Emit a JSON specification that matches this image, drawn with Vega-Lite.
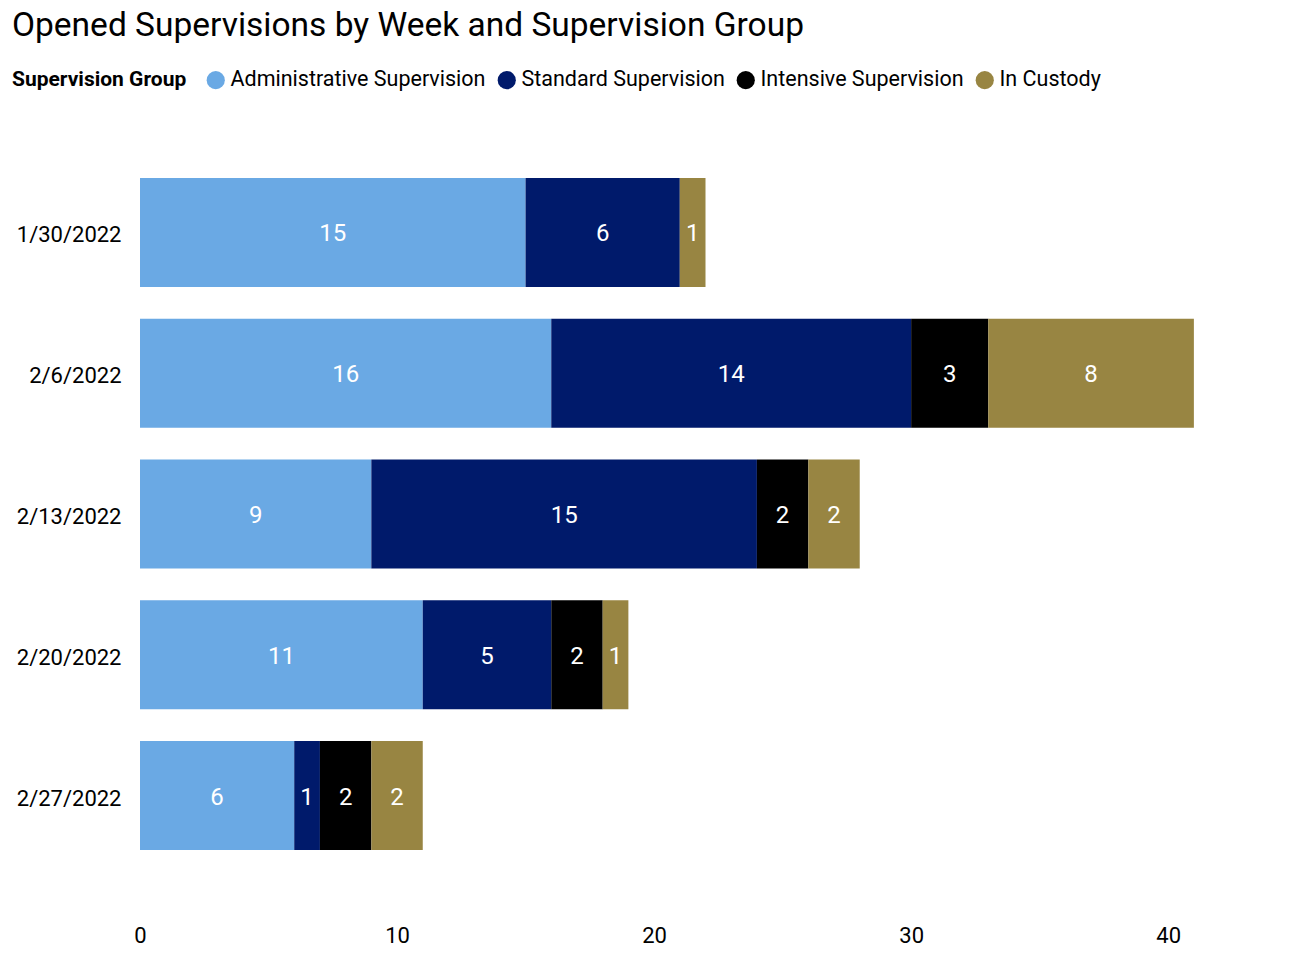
{
  "$schema": "https://vega.github.io/schema/vega-lite/v6.json",
  "width": 1131,
  "height": 704,
  "autosize": {"type": "none"},
  "padding": {"left": 140, "top": 162, "right": 37, "bottom": 94},
  "background": "white",
  "config": {"view": {"stroke": null}, "font": "Roboto"},
  "title": {
    "text": "Opened Supervisions by Week and Supervision Group",
    "anchor": "start",
    "frame": "group",
    "dx": -128,
    "dy": -22,
    "fontSize": 33.5,
    "font": "Roboto",
    "fontWeight": "normal",
    "color": "black"
  },
  "data": {
    "values": [
      {"week": "1/30/2022", "group": "Administrative Supervision", "k": 1, "n": 15},
      {"week": "1/30/2022", "group": "Standard Supervision", "k": 2, "n": 6},
      {"week": "1/30/2022", "group": "In Custody", "k": 4, "n": 1},
      {"week": "2/6/2022", "group": "Administrative Supervision", "k": 1, "n": 16},
      {"week": "2/6/2022", "group": "Standard Supervision", "k": 2, "n": 14},
      {"week": "2/6/2022", "group": "Intensive Supervision", "k": 3, "n": 3},
      {"week": "2/6/2022", "group": "In Custody", "k": 4, "n": 8},
      {"week": "2/13/2022", "group": "Administrative Supervision", "k": 1, "n": 9},
      {"week": "2/13/2022", "group": "Standard Supervision", "k": 2, "n": 15},
      {"week": "2/13/2022", "group": "Intensive Supervision", "k": 3, "n": 2},
      {"week": "2/13/2022", "group": "In Custody", "k": 4, "n": 2},
      {"week": "2/20/2022", "group": "Administrative Supervision", "k": 1, "n": 11},
      {"week": "2/20/2022", "group": "Standard Supervision", "k": 2, "n": 5},
      {"week": "2/20/2022", "group": "Intensive Supervision", "k": 3, "n": 2},
      {"week": "2/20/2022", "group": "In Custody", "k": 4, "n": 1},
      {"week": "2/27/2022", "group": "Administrative Supervision", "k": 1, "n": 6},
      {"week": "2/27/2022", "group": "Standard Supervision", "k": 2, "n": 1},
      {"week": "2/27/2022", "group": "Intensive Supervision", "k": 3, "n": 2},
      {"week": "2/27/2022", "group": "In Custody", "k": 4, "n": 2}
    ]
  },
  "transform": [
    {"stack": "n", "groupby": ["week"], "sort": [{"field": "k", "order": "ascending"}], "as": ["x0", "x1"]}
  ],
  "encoding": {
    "y": {
      "field": "week",
      "type": "nominal",
      "sort": ["1/30/2022", "2/6/2022", "2/13/2022", "2/20/2022", "2/27/2022"],
      "scale": {"paddingInner": 0.2256, "paddingOuter": 0.113},
      "axis": {
        "title": null,
        "ticks": false,
        "domain": false,
        "labelPadding": 19,
        "labelOffset": 3,
        "labelFontSize": 22,
        "labelFont": "Roboto",
        "labelColor": "black"
      }
    }
  },
  "layer": [
    {
      "mark": {"type": "bar"},
      "encoding": {
        "x": {
          "field": "x0",
          "type": "quantitative",
          "scale": {"domain": [0, 44], "nice": false},
          "axis": {
            "title": null,
            "values": [0, 10, 20, 30, 40],
            "ticks": false,
            "domain": false,
            "grid": false,
            "labelFlush": false,
            "labelPadding": 59,
            "labelFontSize": 22,
            "labelFont": "Roboto",
            "labelColor": "black"
          }
        },
        "x2": {"field": "x1"},
        "color": {
          "field": "group",
          "type": "nominal",
          "scale": {
            "domain": ["Administrative Supervision", "Standard Supervision", "Intensive Supervision", "In Custody"],
            "range": ["#6AA9E4", "#001A6B", "#000000", "#988542"]
          },
          "legend": {
            "orient": "none",
            "legendX": -128,
            "legendY": -93,
            "direction": "horizontal",
            "title": "Supervision Group",
            "titleOrient": "left",
            "titleFontSize": 21,
            "titleFont": "Roboto",
            "titleFontWeight": "bold",
            "titleColor": "black",
            "titlePadding": 18,
            "labelFontSize": 21.5,
            "labelFont": "Roboto",
            "labelColor": "black",
            "labelLimit": 0,
            "labelOffset": 4,
            "symbolType": "circle",
            "symbolSize": 330,
            "symbolStrokeWidth": 0,
            "columnPadding": 10
          }
        }
      }
    },
    {
      "transform": [
        {"fold": ["x0", "x1"], "as": ["edge", "pos"]},
        {"aggregate": [{"op": "mean", "field": "pos", "as": "mid"}], "groupby": ["week", "group", "n"]}
      ],
      "mark": {"type": "text", "color": "white", "fontSize": 24, "font": "Roboto", "dy": 2},
      "encoding": {
        "x": {"field": "mid", "type": "quantitative"},
        "text": {"field": "n", "type": "quantitative"}
      }
    }
  ]
}
